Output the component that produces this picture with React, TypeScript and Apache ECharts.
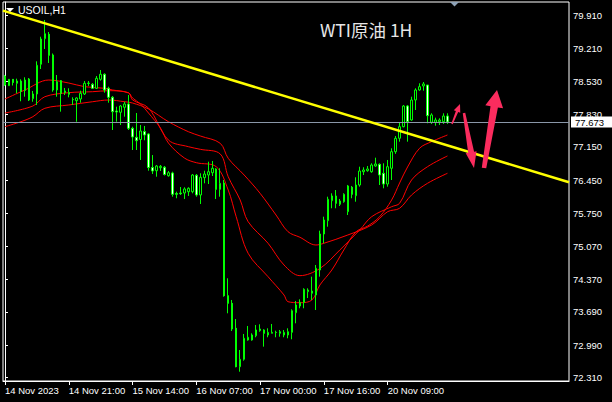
import React, { useEffect, useRef } from "react";
import * as echarts from "echarts";

// ---- candle data (USOIL H1) ----
const opens = [
  78.637, 78.434, 78.568, 78.484, 78.532, 78.333, 78.574, 78.161, 78.26, 78.883,
  79.419, 79.512, 79.078, 78.344, 78.539, 78.323, 78.253, 78.145, 78.119, 78.155,
  78.26, 78.48, 78.463, 78.379, 78.568, 78.673, 78.379, 78.19, 77.903, 77.876,
  77.981, 78.05, 77.54, 77.352, 77.306, 77.473, 77.421, 76.718, 76.651, 76.714,
  76.723, 76.546, 76.603, 76.173, 76.184, 76.184, 76.211, 76.211, 76.555, 76.142,
  76.505, 76.561, 76.609, 76.687, 76.261, 76.393, 74.03, 73.87, 73.346, 72.541,
  72.696, 73.101, 73.101, 73.191, 73.296, 73.311, 73.206, 73.241, 73.262, 73.241,
  73.206, 73.206, 73.262, 73.673, 73.814, 73.888, 74.114, 74.08, 74.045, 74.569,
  75.324, 75.603, 76.022, 76.121, 75.946, 76.001, 75.792, 76.303, 76.127, 76.351,
  76.63, 76.651, 76.63, 76.75, 76.785, 76.597, 76.372, 76.702, 77.05, 77.331,
  77.574, 78.008, 77.715, 78.134, 78.344, 78.428, 78.448, 77.666, 77.666, 77.679,
  77.679, 77.798,
];
const closes = [
  78.448, 78.568, 78.501, 78.532, 78.316, 78.553, 78.134, 78.26, 78.862, 79.413,
  79.524, 79.071, 78.344, 78.518, 78.274, 78.291, 78.295, 78.14, 78.176, 78.274,
  78.484, 78.49, 78.379, 78.589, 78.673, 78.344, 78.19, 77.889, 77.882, 78.008,
  78.05, 77.54, 77.358, 77.28, 77.484, 77.4, 76.718, 76.645, 76.75, 76.743,
  76.572, 76.609, 76.156, 76.156, 76.169, 76.268, 76.282, 76.561, 76.142, 76.513,
  76.582, 76.63, 76.702, 76.261, 76.387, 74.03, 73.87, 73.332, 72.541, 72.696,
  73.137, 73.158, 73.206, 73.311, 73.332, 73.241, 73.262, 73.262, 73.258, 73.275,
  73.262, 73.275, 73.715, 73.835, 73.892, 74.164, 74.149, 74.128, 74.604, 75.324,
  75.617, 76.052, 76.121, 75.967, 76.016, 76.156, 76.331, 76.156, 76.351, 76.645,
  76.666, 76.687, 76.771, 76.792, 76.561, 76.372, 76.735, 77.05, 77.331, 77.574,
  78.008, 77.679, 78.134, 78.344, 78.413, 78.47, 77.805, 77.82, 77.715, 77.715,
  77.798, 77.673,
];
const lows = [
  78.428, 78.428, 78.438, 78.275, 78.107, 78.203, 78.113, 78.098, 78.029, 78.784,
  79.203, 78.91, 78.308, 78.203, 77.889, 78.239, 78.19, 78.029, 77.679, 78.077,
  78.239, 78.428, 78.365, 78.365, 78.539, 78.287, 78.077, 77.505, 77.679, 77.61,
  77.784, 77.505, 77.085, 77.085, 76.876, 77.289, 76.651, 76.582, 76.525, 76.645,
  76.551, 76.525, 76.106, 76.073, 76.142, 76.058, 76.121, 76.177, 76.106, 75.953,
  76.387, 76.372, 76.54, 76.058, 76.106, 74.009, 73.661, 73.29, 72.528, 72.436,
  72.667, 73.087, 73.087, 73.158, 73.275, 72.961, 73.158, 73.241, 73.158, 73.17,
  73.158, 73.137, 73.116, 73.451, 73.766, 73.766, 73.981, 73.94, 73.73, 74.429,
  75.129, 75.477, 75.863, 75.863, 75.911, 75.98, 75.722, 76.073, 76.001, 76.316,
  76.561, 76.63, 76.609, 76.735, 76.351, 76.282, 76.316, 76.456, 77.005, 77.26,
  77.561, 77.26, 77.7, 77.924, 78.329, 78.329, 77.645, 77.631, 77.595, 77.61,
  77.631, 77.631,
];
const highs = [
  78.658, 78.574, 78.574, 78.581, 78.568, 78.61, 78.595, 78.323, 78.945, 79.461,
  79.812, 79.56, 79.109, 78.658, 78.553, 78.386, 78.379, 78.19, 78.19, 78.329,
  78.532, 78.532, 78.49, 78.637, 78.763, 78.694, 78.413, 78.218, 77.993, 78.029,
  78.098, 78.239, 77.574, 77.861, 77.61, 77.589, 77.435, 76.98, 76.771, 76.771,
  76.75, 76.645, 76.63, 76.211, 76.309, 76.303, 76.303, 76.582, 76.582, 76.597,
  76.651, 76.84, 76.855, 76.702, 76.702, 76.456, 74.395, 73.94, 73.541, 72.891,
  73.227, 73.395, 73.241, 73.416, 73.43, 73.325, 73.346, 73.437, 73.296, 73.311,
  73.311, 73.346, 73.745, 73.919, 73.954, 74.185, 74.185, 74.429, 74.674, 75.393,
  75.687, 76.106, 76.177, 76.246, 76.058, 76.177, 76.352, 76.331, 76.513, 76.735,
  76.723, 76.75, 76.806, 76.924, 76.806, 76.806, 76.876, 77.121, 77.379, 77.658,
  78.029, 78.029, 78.203, 78.379, 78.484, 78.511, 78.448, 77.855, 77.763, 77.75,
  77.855, 77.855,
];

// ---- axes ----
const slotCount = 142; // bar slots, including the empty right shift
const xTickLabels = [
  "14 Nov 2023",
  "14 Nov 21:00",
  "15 Nov 14:00",
  "16 Nov 07:00",
  "17 Nov 00:00",
  "17 Nov 16:00",
  "20 Nov 09:00",
];
const xTickStep = 16;
const yTicks = [72.31, 72.99, 73.69, 74.37, 75.07, 75.75, 76.45, 77.15, 77.83, 78.53, 79.21, 79.91];
const yMin = 72.241;
const yMax = 80.189;
const lastPrice = 77.673;

// ---- indicator lines: [bar index, price] ----
const maFast = [
  [0, 78.155], [5, 78.344], [11, 78.553], [16, 78.49], [20, 78.413], [25, 78.379],
  [27, 78.344], [31, 78.281], [32, 78.176], [34, 78.05], [36, 77.861], [39, 77.547],
  [41, 77.232], [45, 76.918], [48, 76.819], [53, 76.735], [56, 76.246], [58, 75.687],
  [61, 74.919], [66, 74.428], [70, 74.045], [71, 73.904], [74, 73.883], [77, 73.94],
  [79, 74.254], [82, 74.569], [85, 74.988], [88, 75.366], [91, 75.491], [94, 75.687],
  [97, 76.037], [99, 76.393], [101, 76.729], [104, 77.121], [107, 77.259], [111, 77.4],
];
const maMid = [
  [0, 77.861], [7, 78.008], [10, 78.203], [16, 78.287], [22, 78.308], [26, 78.329],
  [31, 78.287], [32, 78.134], [36, 77.966], [41, 77.295], [46, 77.155], [49, 77.1],
  [54, 77.002], [56, 76.525], [59, 76.037], [61, 75.582], [66, 75.129], [70, 74.674],
  [74, 74.45], [79, 74.6], [84, 74.988], [89, 75.408], [92, 75.687], [97, 75.896],
  [99, 75.968], [102, 76.456], [106, 76.735], [111, 76.96],
];
const maSlow = [
  [0, 77.574], [4, 77.679], [7, 77.784], [10, 77.96], [16, 78.029], [22, 78.098],
  [26, 78.134], [30, 78.098], [32, 78.071], [36, 77.945], [41, 77.679], [46, 77.469],
  [49, 77.379], [54, 77.226], [56, 76.911], [60, 76.561], [64, 76.177], [68, 75.722],
  [71, 75.372], [74, 75.255], [78, 75.093], [80, 75.129], [86, 75.303], [92, 75.513],
  [96, 75.792], [99, 75.863], [102, 76.142], [106, 76.387], [111, 76.597],
];
const trendLine = [[-0.5, 80.009], [141.5, 76.408]];

const chartTitle = "WTI原油 1H";
const symbolLabel = "USOIL,H1";

type Pt = [number, number];
function arrowPoints(tail: Pt, tip: Pt, wTail: number, wNeck: number, headW: number, headL: number): Pt[] {
  const dx = tip[0] - tail[0];
  const dy = tip[1] - tail[1];
  const len = Math.hypot(dx, dy);
  const ux = dx / len;
  const uy = dy / len;
  const nx = -uy;
  const ny = ux;
  const neck: Pt = [tip[0] - ux * headL, tip[1] - uy * headL];
  return [
    [tail[0] + (nx * wTail) / 2, tail[1] + (ny * wTail) / 2],
    [neck[0] + (nx * wNeck) / 2, neck[1] + (ny * wNeck) / 2],
    [neck[0] + (nx * headW) / 2, neck[1] + (ny * headW) / 2],
    tip,
    [neck[0] - (nx * headW) / 2, neck[1] - (ny * headW) / 2],
    [neck[0] - (nx * wNeck) / 2, neck[1] - (ny * wNeck) / 2],
    [tail[0] - (nx * wTail) / 2, tail[1] - (ny * wTail) / 2],
  ];
}

export default function App() {
  const ref = useRef<HTMLDivElement>(null);

  useEffect(() => {
    if (!ref.current) return;
    const chart = echarts.init(ref.current, null, { renderer: "svg" });

    const categories = Array.from({ length: slotCount }, (_, i) => String(i));
    const candleData = opens.map((o, i) => [o, closes[i], lows[i], highs[i]]);
    const showTick = (index: number) => index % xTickStep === 0 && index / xTickStep < xTickLabels.length;
    const font = "Liberation Sans, Arial, sans-serif";
    const arrowColor = "#fb2c5e";

    const maSeries = (data: number[][]) => ({
      type: "line",
      xAxisIndex: 1,
      yAxisIndex: 0,
      data,
      showSymbol: false,
      smooth: 0.35,
      silent: true,
      z: 2,
      lineStyle: { color: "#ff0000", width: 1 },
    });

    chart.setOption({
      animation: false,
      backgroundColor: "#000",
      grid: {
        left: 3,
        right: 43,
        top: 2,
        bottom: 21,
        show: true,
        borderColor: "#ffffff",
        borderWidth: 1,
        backgroundColor: "#000",
        containLabel: false,
        outerBoundsMode: "none",
      },
      xAxis: [
        {
          type: "category",
          data: categories,
          boundaryGap: true,
          axisLine: { show: true, lineStyle: { color: "#fff", width: 1 } },
          axisTick: {
            show: true,
            alignWithLabel: true,
            interval: (index: number) => showTick(index),
            length: 4,
            lineStyle: { color: "#fff" },
          },
          axisLabel: {
            show: true,
            interval: (index: number) => showTick(index),
            formatter: (_v: string, index: number) =>
              showTick(index) ? xTickLabels[index / xTickStep] : "",
            color: "#fff",
            fontSize: 9.5,
            fontFamily: font,
            align: "left",
            margin: 4,
            hideOverlap: false,
          },
          splitLine: { show: false },
        },
        {
          type: "value",
          min: -0.5,
          max: slotCount - 0.5,
          show: false,
          splitLine: { show: false },
        },
      ],
      yAxis: {
        type: "value",
        position: "right",
        min: yMin,
        max: yMax,
        scale: true,
        splitLine: { show: false },
        axisLine: { show: true, lineStyle: { color: "#fff", width: 1 } },
        axisTick: { show: true, length: 3, customValues: yTicks, lineStyle: { color: "#fff" } },
        axisLabel: {
          show: true,
          customValues: yTicks,
          formatter: (v: number) => v.toFixed(3),
          color: "#fff",
          fontSize: 9.5,
          fontFamily: font,
          margin: 4,
        },
      },
      series: [
        maSeries(maSlow),
        maSeries(maMid),
        maSeries(maFast),
        {
          type: "candlestick",
          xAxisIndex: 0,
          yAxisIndex: 0,
          data: candleData,
          barWidth: 2,
          z: 3,
          itemStyle: {
            color: "#000",
            color0: "#fff",
            borderColor: "#00ff00",
            borderColor0: "#00ff00",
            borderColorDoji: "#00ff00",
            borderWidth: 1,
          },
          markLine: {
            symbol: "none",
            silent: true,
            data: [{ yAxis: lastPrice }],
            lineStyle: { color: "#8a97a8", width: 1, type: "solid" },
            label: {
              show: true,
              position: "end",
              distance: 2,
              formatter: lastPrice.toFixed(3),
              color: "#000",
              backgroundColor: "#fff",
              padding: [1, 9, 0, 4],
              fontSize: 9.5,
              fontFamily: font,
            },
          },
        },
        {
          type: "line",
          xAxisIndex: 1,
          yAxisIndex: 0,
          data: trendLine,
          showSymbol: false,
          silent: true,
          z: 5,
          lineStyle: { color: "#ffff00", width: 2.5 },
        },
      ],
      graphic: [
        {
          type: "polygon",
          shape: { points: [[6, 8], [14, 8], [10, 12]] },
          style: { fill: "#fff" },
          z: 10,
        },
        {
          type: "text",
          x: 18,
          y: 9.5,
          style: {
            text: symbolLabel,
            fill: "#fff",
            fontSize: 10.5,
            fontFamily: font,
            verticalAlign: "middle",
          },
          z: 10,
        },
        {
          type: "polygon",
          shape: { points: [[450, 2], [459, 2], [454.5, 6.5]] },
          style: { fill: "#8fa3b8" },
          z: 10,
        },
        {
          type: "text",
          x: 320,
          y: 29,
          style: {
            text: chartTitle,
            fill: "#e6e6e6",
            fontSize: 17.5,
            fontFamily: "Noto Sans CJK SC, Noto Sans, sans-serif",
            verticalAlign: "middle",
          },
          z: 10,
        },
        {
          type: "polygon",
          shape: { points: arrowPoints([452, 124], [460, 104], 1.5, 2.5, 7, 8) },
          style: { fill: arrowColor },
          z: 10,
        },
        {
          type: "polygon",
          shape: { points: arrowPoints([464, 113], [474, 168], 2.5, 6, 11, 16) },
          style: { fill: arrowColor },
          z: 10,
        },
        {
          type: "polygon",
          shape: { points: arrowPoints([484, 168], [497, 90], 4.5, 7.5, 18, 17) },
          style: { fill: arrowColor },
          z: 10,
        },
      ],
    });

    return () => chart.dispose();
  }, []);

  return (
    <div
      ref={ref}
      style={{ position: "fixed", left: 0, top: 0, width: 612, height: 402, background: "#000" }}
    />
  );
}
